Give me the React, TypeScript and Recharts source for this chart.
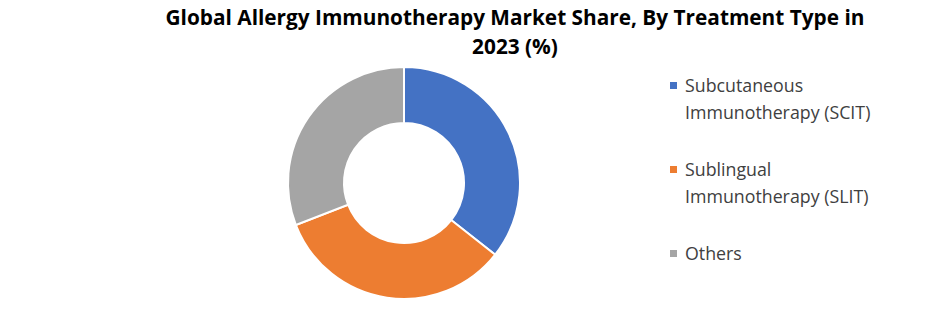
import React from 'react';
import { PieChart, Pie, Cell, Legend } from 'recharts';

const treatmentTypes = ['Subcutaneous Immunotherapy (SCIT)', 'Sublingual Immunotherapy (SLIT)', 'Others'];
const legendLines = [
  ['Subcutaneous', 'Immunotherapy (SCIT)'],
  ['Sublingual', 'Immunotherapy (SLIT)'],
  ['Others'],
];
const shareValues = [35.6, 33.5, 30.9];
const sliceColors = ['#4472c4', '#ed7d31', '#a5a5a5'];

const data = treatmentTypes.map((name, i) => ({ name, value: shareValues[i] }));

const LegendBox = () => (
  <div style={{ fontFamily: '"Open Sans", sans-serif', fontSize: 17.8, color: '#404040' }}>
    {legendLines.map((lines, i) => (
      <div key={i} style={{ position: 'relative', paddingLeft: 15, lineHeight: '27px', marginBottom: i < 2 ? 30 : 0 }}>
        <span
          style={{
            position: 'absolute',
            left: 0,
            top: 10,
            width: 7,
            height: 7,
            background: sliceColors[i],
          }}
        />
        {lines.map((l) => (
          <div key={l}>{l}</div>
        ))}
      </div>
    ))}
  </div>
);

const App: React.FC = () => {
  return (
    <div style={{ position: 'absolute', left: 0, top: 0, width: 940, height: 315, background: '#fff' }}>
      <div
        style={{
          position: 'absolute',
          left: 0,
          top: 3,
          width: 1030,
          textAlign: 'center',
          fontFamily: '"Open Sans", sans-serif',
          fontWeight: 'bold',
          fontSize: 20.8,
          lineHeight: '29px',
          color: '#000',
        }}
      >
        Global Allergy Immunotherapy Market Share, By Treatment Type in
        <br />
        2023 (%)
      </div>
      <PieChart width={940} height={315} margin={{ top: 0, right: 0, bottom: 0, left: 0 }}>
        <Pie
          data={data}
          dataKey="value"
          nameKey="name"
          cx={404}
          cy={183}
          innerRadius={60}
          outerRadius={116}
          startAngle={90}
          endAngle={-270}
          stroke="#fff"
          strokeWidth={2}
          isAnimationActive={false}
        >
          {data.map((d, i) => (
            <Cell key={d.name} fill={sliceColors[i]} />
          ))}
        </Pie>
        <Legend
          content={<LegendBox />}
          layout="vertical"
          wrapperStyle={{ left: 670, top: 72, width: 260 }}
        />
      </PieChart>
    </div>
  );
};

export default App;
